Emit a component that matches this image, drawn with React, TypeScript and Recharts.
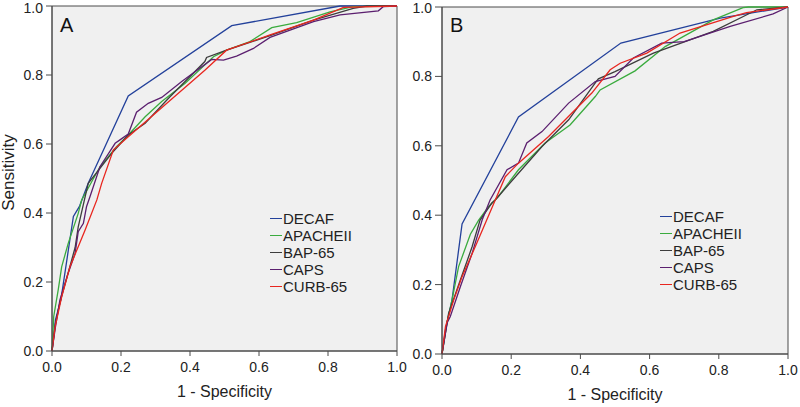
import { LineChart, Line, XAxis, YAxis, ReferenceArea, Legend } from 'recharts';

const ticks = [0, 0.2, 0.4, 0.6, 0.8, 1.0];
const seriesNames = ['DECAF', 'APACHEII', 'BAP-65', 'CAPS', 'CURB-65'];
const seriesColors = ['#23419b', '#3aab3e', '#3d3d3d', '#5b1f6f', '#e8261f'];

// Panel A (1 - specificity, sensitivity)
const decafA_fpr = [0, 0.01, 0.026, 0.047, 0.062, 0.08, 0.105, 0.221, 0.521, 0.835, 1];
const decafA_tpr = [0, 0.09, 0.15, 0.29, 0.39, 0.42, 0.486, 0.739, 0.943, 1, 1];
const apacheA_fpr = [0, 0.005, 0.018, 0.028, 0.047, 0.076, 0.086, 0.139, 0.187, 0.221, 0.27, 0.318, 0.386, 0.468, 0.506, 0.574, 0.637, 0.709, 0.806, 0.873, 1];
const apacheA_tpr = [0, 0.1, 0.177, 0.244, 0.312, 0.399, 0.438, 0.534, 0.592, 0.626, 0.679, 0.723, 0.776, 0.853, 0.872, 0.897, 0.937, 0.952, 0.983, 0.998, 1];
const bapA_fpr = [0, 0.01, 0.023, 0.045, 0.067, 0.076, 0.105, 0.173, 0.221, 0.27, 0.337, 0.443, 0.448, 0.506, 0.632, 0.758, 0.873, 0.912, 1];
const bapA_tpr = [0, 0.08, 0.14, 0.22, 0.3, 0.36, 0.486, 0.573, 0.626, 0.66, 0.732, 0.839, 0.851, 0.872, 0.914, 0.959, 0.993, 1, 1];
const capsA_fpr = [0, 0.01, 0.023, 0.045, 0.067, 0.076, 0.091, 0.1, 0.11, 0.139, 0.183, 0.197, 0.221, 0.245, 0.279, 0.318, 0.376, 0.463, 0.497, 0.535, 0.584, 0.632, 0.758, 0.835, 0.946, 0.96, 1];
const capsA_tpr = [0, 0.07, 0.148, 0.22, 0.283, 0.346, 0.37, 0.418, 0.447, 0.534, 0.602, 0.612, 0.629, 0.692, 0.718, 0.735, 0.781, 0.845, 0.843, 0.855, 0.877, 0.909, 0.955, 0.974, 0.986, 0.998, 1];
const curbA_fpr = [0, 0.009, 0.028, 0.052, 0.096, 0.13, 0.144, 0.178, 0.221, 0.443, 0.506, 0.632, 0.758, 0.845, 1];
const curbA_tpr = [0, 0.07, 0.157, 0.244, 0.351, 0.438, 0.486, 0.583, 0.621, 0.814, 0.872, 0.916, 0.959, 0.996, 1];

// Panel B
const decafB_fpr = [0, 0.01, 0.029, 0.058, 0.221, 0.517, 0.804, 1];
const decafB_tpr = [0, 0.07, 0.156, 0.375, 0.683, 0.896, 0.968, 1];
const apacheB_fpr = [0, 0.014, 0.029, 0.048, 0.082, 0.106, 0.135, 0.163, 0.221, 0.298, 0.37, 0.443, 0.457, 0.558, 0.645, 0.784, 0.87, 0.885, 1];
const apacheB_tpr = [0, 0.089, 0.156, 0.252, 0.345, 0.386, 0.425, 0.454, 0.531, 0.608, 0.66, 0.742, 0.761, 0.816, 0.886, 0.963, 0.998, 1, 1];
const bapB_fpr = [0, 0.019, 0.053, 0.087, 0.11, 0.144, 0.154, 0.221, 0.289, 0.366, 0.443, 0.452, 0.5, 0.611, 0.784, 0.91, 1];
const bapB_tpr = [0, 0.117, 0.213, 0.309, 0.386, 0.435, 0.444, 0.521, 0.598, 0.675, 0.781, 0.793, 0.814, 0.867, 0.93, 0.992, 1];
const capsB_fpr = [0, 0.015, 0.024, 0.053, 0.087, 0.116, 0.139, 0.188, 0.221, 0.245, 0.289, 0.366, 0.443, 0.5, 0.553, 0.635, 0.7, 0.833, 0.957, 1];
const capsB_tpr = [0, 0.09, 0.108, 0.194, 0.29, 0.386, 0.444, 0.531, 0.55, 0.608, 0.641, 0.723, 0.785, 0.8, 0.853, 0.896, 0.9, 0.944, 0.98, 1];
const curbB_fpr = [0, 0.01, 0.034, 0.058, 0.096, 0.154, 0.183, 0.221, 0.308, 0.433, 0.486, 0.515, 0.592, 0.688, 0.842, 0.88, 1];
const curbB_tpr = [0, 0.079, 0.156, 0.223, 0.309, 0.444, 0.511, 0.55, 0.627, 0.752, 0.819, 0.838, 0.867, 0.925, 0.973, 0.984, 1];

const panelA = [
  [decafA_fpr, decafA_tpr],
  [apacheA_fpr, apacheA_tpr],
  [bapA_fpr, bapA_tpr],
  [capsA_fpr, capsA_tpr],
  [curbA_fpr, curbA_tpr],
];
const panelB = [
  [decafB_fpr, decafB_tpr],
  [apacheB_fpr, apacheB_tpr],
  [bapB_fpr, bapB_tpr],
  [capsB_fpr, capsB_tpr],
  [curbB_fpr, curbB_tpr],
];

const font = 'Arial, "Liberation Sans", sans-serif';
const tickStyle = { fontSize: 14, fill: '#222', fontFamily: font };

const toPoints = (fpr: number[], tpr: number[]) => fpr.map((x, i) => ({ x, y: tpr[i] }));

// legend drawn in the original series order (recharts would sort it by name)
function LegendBox() {
  return (
    <div style={{ fontFamily: font, fontSize: 15, color: '#222' }}>
      {seriesNames.map((name, i) => (
        <div key={name} style={{ display: 'flex', alignItems: 'center', height: 17 }}>
          <span style={{ display: 'inline-block', width: 12, height: 1.5, background: seriesColors[i], marginRight: 1 }} />
          <span style={{ lineHeight: '17px' }}>{name}</span>
        </div>
      ))}
    </div>
  );
}

interface PanelProps {
  curves: number[][][];
  width: number;
  margin: { top: number; right: number; bottom: number; left: number };
  yAxisWidth: number;
  xAxisHeight: number;
  yTickSize: number;
  legendPos: { left: number; top: number };
  showYTitle: boolean;
}

function RocPanel({ curves, width, margin, yAxisWidth, xAxisHeight, yTickSize, legendPos, showYTitle }: PanelProps) {
  const plotLeft = margin.left + yAxisWidth;
  const plotRight = width - margin.right;
  const plotBottom = 407 - xAxisHeight;
  const plotMid = (margin.top + plotBottom) / 2 - 6;
  return (
    <LineChart width={width} height={407} margin={margin} style={{ overflow: 'visible' }}>
      <ReferenceArea x1={0} x2={1} y1={0} y2={1} fill="#f0f0f0" fillOpacity={1} stroke="#4a4a4a" strokeWidth={1} />
      <XAxis
        type="number"
        dataKey="x"
        domain={[0, 1]}
        ticks={ticks}
        tickFormatter={(v: number) => v.toFixed(1)}
        height={xAxisHeight}
        tick={tickStyle}
        tickSize={5}
        tickMargin={6}
        stroke="#4a4a4a"
        allowDuplicatedCategory={false}
        label={{
          content: () => (
            <text x={(plotLeft + plotRight) / 2} y={plotBottom + 46} textAnchor="middle" fontSize={16} fontFamily={font} fill="#222">
              1 - Specificity
            </text>
          ),
        }}
      />
      <YAxis
        type="number"
        domain={[0, 1]}
        ticks={ticks}
        tickFormatter={(v: number) => v.toFixed(1)}
        width={yAxisWidth}
        tick={tickStyle}
        tickSize={yTickSize}
        tickMargin={3}
        stroke="#4a4a4a"
        label={
          showYTitle
            ? {
                content: () => (
                  <text x={14} y={plotMid} transform={`rotate(-90 14 ${plotMid})`} textAnchor="middle" fontSize={17} fontFamily={font} fill="#222">
                    Sensitivity
                  </text>
                ),
              }
            : undefined
        }
      />
      <Legend
        layout="vertical"
        align="center"
        verticalAlign="middle"
        content={<LegendBox />}
        wrapperStyle={{ position: 'absolute', left: legendPos.left, top: legendPos.top, width: 'auto' }}
      />
      {curves.map(([fpr, tpr], i) => (
        <Line
          key={seriesNames[i]}
          name={seriesNames[i]}
          data={toPoints(fpr, tpr)}
          dataKey="y"
          type="linear"
          stroke={seriesColors[i]}
          strokeWidth={1.3}
          dot={false}
          activeDot={false}
          isAnimationActive={false}
        />
      ))}
    </LineChart>
  );
}

export default function App() {
  return (
    <div style={{ position: 'absolute', left: 0, top: 0, width: 800, height: 407, background: '#fff' }}>
      <div style={{ position: 'absolute', left: 0, top: 0 }}>
        <RocPanel
          curves={panelA}
          width={412}
          margin={{ top: 6, right: 15, bottom: 0, left: 0 }}
          yAxisWidth={52}
          xAxisHeight={56}
          yTickSize={6}
          legendPos={{ left: 270, top: 210 }}
          showYTitle={true}
        />
      </div>
      <div style={{ position: 'absolute', left: 400, top: 0 }}>
        <RocPanel
          curves={panelB}
          width={400}
          margin={{ top: 7, right: 12, bottom: 0, left: 0 }}
          yAxisWidth={42}
          xAxisHeight={53}
          yTickSize={7}
          legendPos={{ left: 260, top: 208 }}
          showYTitle={false}
        />
      </div>
      <div style={{ position: 'absolute', left: 60, top: 15, fontFamily: font, fontSize: 20, lineHeight: '20px', color: '#111' }}>A</div>
      <div style={{ position: 'absolute', left: 450, top: 15, fontFamily: font, fontSize: 20, lineHeight: '20px', color: '#111' }}>B</div>
    </div>
  );
}
